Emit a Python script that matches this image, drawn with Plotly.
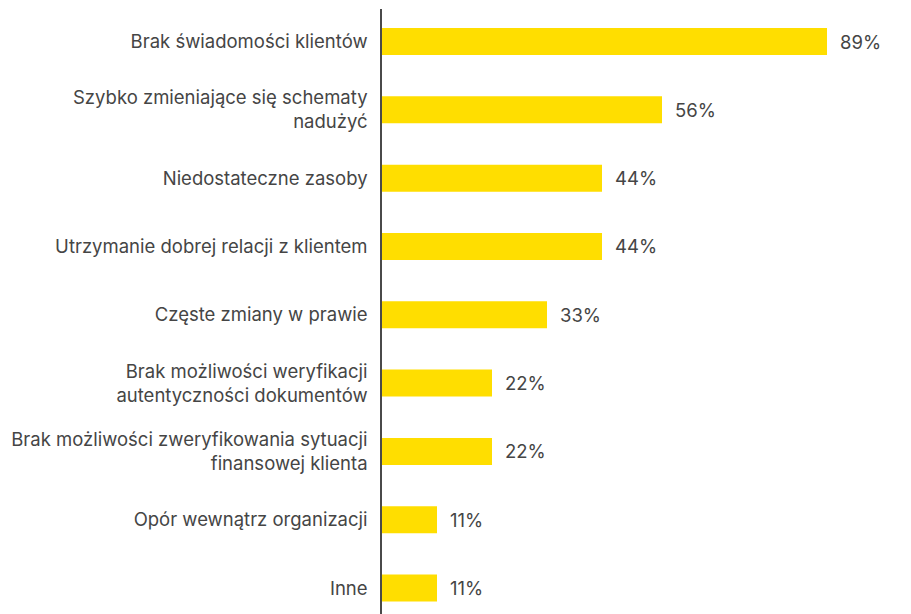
import plotly.graph_objects as go

categories = [
    "Brak świadomości klientów",
    "Szybko zmieniające się schematy<br>nadużyć",
    "Niedostateczne zasoby",
    "Utrzymanie dobrej relacji z klientem",
    "Częste zmiany w prawie",
    "Brak możliwości weryfikacji<br>autentyczności dokumentów",
    "Brak możliwości zweryfikowania sytuacji<br>finansowej klienta",
    "Opór wewnątrz organizacji",
    "Inne",
]
values = [89, 56, 44, 44, 33, 22, 22, 11, 11]
value_labels = [f"{v}%" for v in values]

positions = list(range(len(categories)))
FONT = "Inter, 'Noto Sans', sans-serif"
TEXT_COLOR = "#454545"
BAR_COLOR = "#FFDE00"

fig = go.Figure(
    go.Bar(
        x=values,
        y=positions,
        orientation="h",
        width=0.395,
        marker=dict(color=BAR_COLOR, line=dict(width=0)),
        hoverinfo="skip",
    )
)

for pos, v, lab in zip(positions, values, value_labels):
    fig.add_annotation(
        x=v, y=pos, text=lab, showarrow=False,
        xanchor="left", yanchor="middle", xshift=11,
        font=dict(family=FONT, size=18.5, color=TEXT_COLOR),
    )

fig.update_layout(
    width=911, height=614,
    margin=dict(l=382, r=10, t=9, b=0),
    paper_bgcolor="white", plot_bgcolor="white",
    showlegend=False,
    font=dict(family=FONT, size=18, color=TEXT_COLOR),
)
fig.update_xaxes(
    range=[0, 103.8], visible=False, showgrid=False, zeroline=False,
)
fig.update_yaxes(
    tickmode="array", tickvals=positions, ticktext=categories,
    range=[8.38, -0.476],
    showgrid=False, zeroline=False,
    showline=True, linecolor="#4a4a4a", linewidth=1.5,
    ticks="", ticklabelstandoff=9,
    tickfont=dict(family=FONT, size=18.5, color=TEXT_COLOR),
)

fig.write_html("out.html")
